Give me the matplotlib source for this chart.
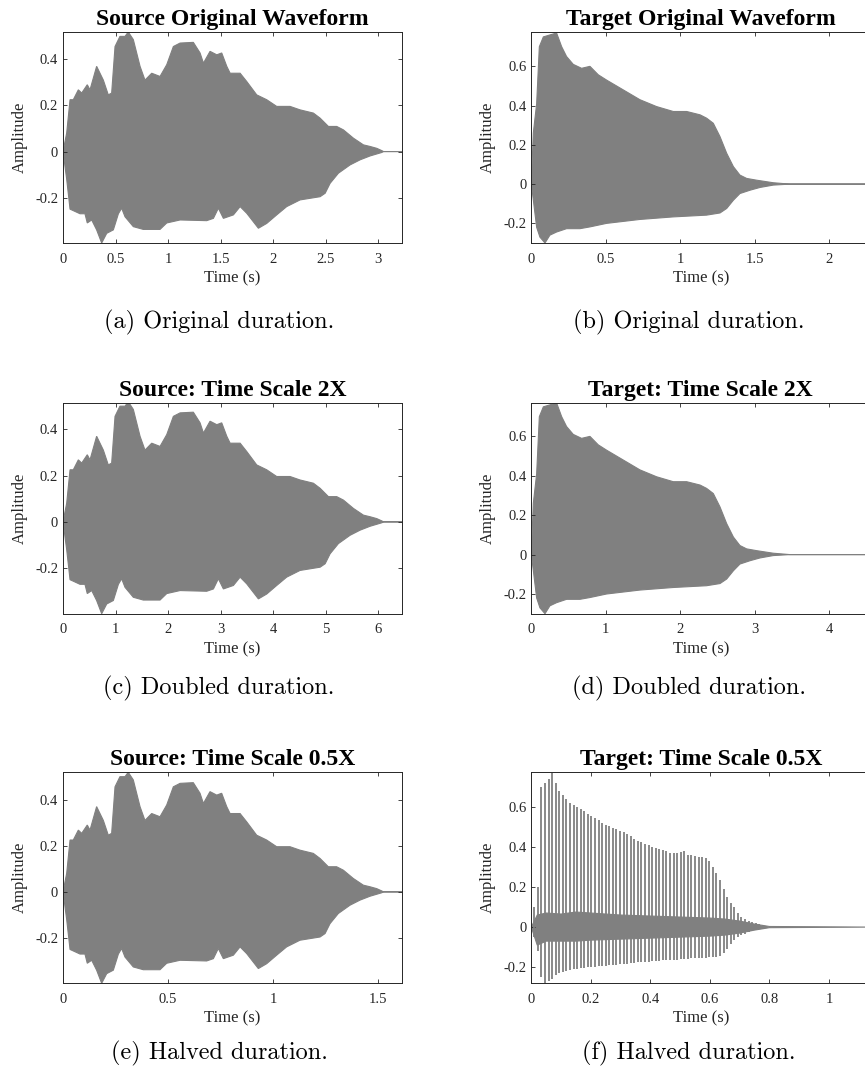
import matplotlib.pyplot as plt
import numpy as np
from matplotlib.ticker import FuncFormatter

plt.rcParams['font.family'] = ['Liberation Serif', 'DejaVu Serif']
plt.rcParams['axes.unicode_minus'] = False

GRAY = '#808080'
AXC = '#262626'

# source waveform envelope (original duration), upper and lower edges
src_t_hi = [0.0, 0.035, 0.067, 0.098, 0.146, 0.178, 0.231, 0.257, 0.320, 0.384, 0.431, 0.463,
            0.495, 0.542, 0.590, 0.621, 0.669, 0.733, 0.780, 0.844, 0.923, 0.987, 1.050, 1.114,
            1.240, 1.304, 1.336, 1.399, 1.463, 1.510, 1.558, 1.590, 1.685, 1.748, 1.843, 1.938,
            2.033, 2.160, 2.255, 2.382, 2.446, 2.525, 2.604, 2.668, 2.763, 2.858, 2.922, 2.985,
            3.033, 3.049, 3.225]
src_hi = [0.0, 0.08, 0.225, 0.225, 0.268, 0.254, 0.29, 0.268, 0.37, 0.31, 0.246, 0.254,
          0.456, 0.50, 0.50, 0.519, 0.486, 0.37, 0.31, 0.34, 0.326, 0.377, 0.456, 0.471,
          0.474, 0.428, 0.384, 0.435, 0.42, 0.428, 0.37, 0.34, 0.34, 0.304, 0.246, 0.225,
          0.196, 0.196, 0.181, 0.167, 0.145, 0.109, 0.109, 0.094, 0.058, 0.029, 0.022, 0.014,
          0.004, 0.0, 0.0]
src_t_lo = [0.0, 0.035, 0.067, 0.162, 0.209, 0.231, 0.273, 0.320, 0.368, 0.416, 0.479, 0.527,
            0.558, 0.590, 0.669, 0.764, 0.923, 0.987, 1.114, 1.367, 1.431, 1.478, 1.526, 1.621,
            1.685, 1.748, 1.859, 1.938, 2.033, 2.128, 2.255, 2.446, 2.494, 2.541, 2.620, 2.731,
            2.826, 2.922, 3.033, 3.049, 3.225]
src_lo = [0.0, -0.12, -0.25, -0.27, -0.27, -0.31, -0.297, -0.34, -0.397, -0.355, -0.34, -0.27,
          -0.246, -0.283, -0.326, -0.338, -0.338, -0.31, -0.297, -0.30, -0.29, -0.246, -0.29, -0.275,
          -0.239, -0.268, -0.333, -0.312, -0.275, -0.239, -0.21, -0.196, -0.181, -0.138, -0.094, -0.058,
          -0.036, -0.019, -0.004, 0.0, 0.0]

# target waveform envelope (original duration)
tgt_t_hi = [0.0, 0.0135, 0.036, 0.054, 0.081, 0.125, 0.170, 0.204, 0.237, 0.282, 0.338, 0.394,
            0.450, 0.506, 0.618, 0.730, 0.842, 0.954, 1.044, 1.134, 1.178, 1.223, 1.268, 1.313,
            1.358, 1.402, 1.447, 1.514, 1.626, 1.738, 2.278]
tgt_hi = [0.0, 0.26, 0.41, 0.70, 0.75, 0.76, 0.77, 0.70, 0.65, 0.61, 0.59, 0.60,
          0.557, 0.53, 0.48, 0.43, 0.395, 0.37, 0.37, 0.353, 0.336, 0.31, 0.242, 0.157,
          0.089, 0.046, 0.029, 0.02, 0.007, 0.0, 0.0]
tgt_t_lo = [0.0, 0.0135, 0.036, 0.058, 0.092, 0.125, 0.170, 0.237, 0.327, 0.394, 0.506, 0.730,
            0.954, 1.178, 1.268, 1.313, 1.358, 1.402, 1.470, 1.537, 1.626, 1.738, 2.278]
tgt_lo = [0.0, -0.08, -0.22, -0.27, -0.30, -0.26, -0.244, -0.227, -0.227, -0.218, -0.20, -0.18,
          -0.167, -0.158, -0.147, -0.124, -0.082, -0.048, -0.031, -0.017, -0.005, 0.0, 0.0]

# target at 0.5X: dense core band plus individual pitch pulses
half_band_t = [0.0, 0.02, 0.05, 0.10, 0.15, 0.20, 0.30, 0.40, 0.50, 0.60, 0.65, 0.70, 0.75, 0.80, 1.139]
half_band_hi = [0.0, 0.06, 0.07, 0.065, 0.075, 0.07, 0.06, 0.055, 0.05, 0.045, 0.04, 0.03, 0.015, 0.003, 0.0]
half_band_lo = [0.0, -0.09, -0.07, -0.07, -0.07, -0.065, -0.06, -0.055, -0.05, -0.045, -0.04, -0.03, -0.015, -0.003, 0.0]

pulse_t0 = 0.010
pulse_dt = 0.012
pulse_hi = [0.10, 0.20, 0.70, 0.72, 0.74, 0.77, 0.72, 0.68, 0.66, 0.64, 0.62, 0.61,
            0.60, 0.59, 0.58, 0.565, 0.555, 0.545, 0.535, 0.52, 0.51, 0.505, 0.495, 0.49,
            0.48, 0.475, 0.465, 0.455, 0.44, 0.43, 0.425, 0.415, 0.41, 0.40, 0.395, 0.39,
            0.385, 0.38, 0.37, 0.368, 0.37, 0.375, 0.378, 0.36, 0.36, 0.355, 0.35, 0.35,
            0.345, 0.33, 0.30, 0.27, 0.235, 0.19, 0.15, 0.12, 0.10, 0.07, 0.05, 0.04,
            0.03, 0.025, 0.02, 0.015, 0.01, 0.007, 0.004]
pulse_lo = [-0.05, -0.12, -0.25, -0.28, -0.27, -0.26, -0.24, -0.23, -0.225, -0.22, -0.215, -0.21,
            -0.21, -0.205, -0.205, -0.20, -0.20, -0.198, -0.196, -0.195, -0.194, -0.19, -0.19, -0.188,
            -0.186, -0.185, -0.183, -0.18, -0.178, -0.176, -0.175, -0.174, -0.172, -0.17, -0.168, -0.167,
            -0.166, -0.165, -0.164, -0.163, -0.162, -0.16, -0.159, -0.158, -0.156, -0.155, -0.154, -0.153,
            -0.152, -0.151, -0.15, -0.148, -0.145, -0.13, -0.11, -0.085, -0.063, -0.05, -0.04, -0.032,
            -0.025, -0.02, -0.016, -0.012, -0.008, -0.005, -0.003]

titles = ['Source Original Waveform', 'Target Original Waveform',
          'Source: Time Scale 2X', 'Target: Time Scale 2X',
          'Source: Time Scale 0.5X', 'Target: Time Scale 0.5X']
captions = ['(a) Original duration.', '(b) Original duration.',
            '(c) Doubled duration.', '(d) Doubled duration.',
            '(e) Halved duration.', '(f) Halved duration.']
scales = [1, 1, 2, 2, 0.5, 0.5]
xlims = [3.225, 2.278, 6.45, 4.556, 1.613, 1.139]
ylims = [(-0.397, 0.519), (-0.30, 0.775), (-0.397, 0.515), (-0.30, 0.771),
         (-0.397, 0.519), (-0.28, 0.771)]
xticks = [np.arange(0, 3.01, 0.5), np.arange(0, 2.01, 0.5), np.arange(0, 6.01, 1),
          np.arange(0, 4.01, 1), np.arange(0, 1.51, 0.5), np.arange(0, 1.01, 0.2)]

fig = plt.figure(figsize=(8.65, 10.81), dpi=100)
W, H = 865, 1081
lefts = [63, 531.3]
tops = [32, 402.7, 772.3]
aw, ah = 339, 211
cap_x = [219, 689]
cap_y = [322, 688, 1053]

fmt = FuncFormatter(lambda v, p: f'{v:g}')

for i in range(6):
    r, c = divmod(i, 2)
    ax = fig.add_axes([lefts[c] / W, 1 - (tops[r] + ah) / H, aw / W, ah / H])
    s = scales[i]
    if c == 0:
        th, hi, tl, lo = src_t_hi, src_hi, src_t_lo, src_lo
    else:
        th, hi, tl, lo = tgt_t_hi, tgt_hi, tgt_t_lo, tgt_lo
    if i == 5:
        bt = np.array(half_band_t)
        ax.fill(np.concatenate([bt, bt[::-1]]),
                np.concatenate([half_band_hi, half_band_lo[::-1]]),
                color=GRAY, lw=0.8)
        pt = pulse_t0 + pulse_dt * np.arange(len(pulse_hi))
        ax.vlines(pt, pulse_lo, pulse_hi, color=GRAY, lw=1.3)
    else:
        xs = np.concatenate([np.array(th) * s, (np.array(tl) * s)[::-1]])
        ys = np.concatenate([hi, lo[::-1]])
        ax.fill(xs, ys, color=GRAY, lw=0.8)

    ax.set_xlim(0, xlims[i])
    ax.set_ylim(*ylims[i])
    ax.set_xticks(xticks[i])
    ax.set_yticks([-0.2, 0, 0.2, 0.4] if c == 0 else [-0.2, 0, 0.2, 0.4, 0.6])
    ax.xaxis.set_major_formatter(fmt)
    ax.yaxis.set_major_formatter(fmt)
    ax.tick_params(direction='in', length=3, width=0.6, colors=AXC, labelsize=10.5,
                   top=True, right=True)
    ax.tick_params(axis='x', pad=7)
    for sp in ax.spines.values():
        sp.set_color(AXC)
        sp.set_linewidth(0.7)
    ax.set_xlabel('Time (s)', fontsize=12, color=AXC, labelpad=3.5)
    ax.set_ylabel('Amplitude', fontsize=12, color=AXC, labelpad=5.5)
    ax.set_title(titles[i], fontsize=17, fontweight='bold', pad=5)

    fig.text(cap_x[c] / W, 1 - cap_y[r] / H, captions[i], ha='center', va='center',
             family='cmr10', fontsize=17.5)

fig.savefig('out.png', dpi=100)
